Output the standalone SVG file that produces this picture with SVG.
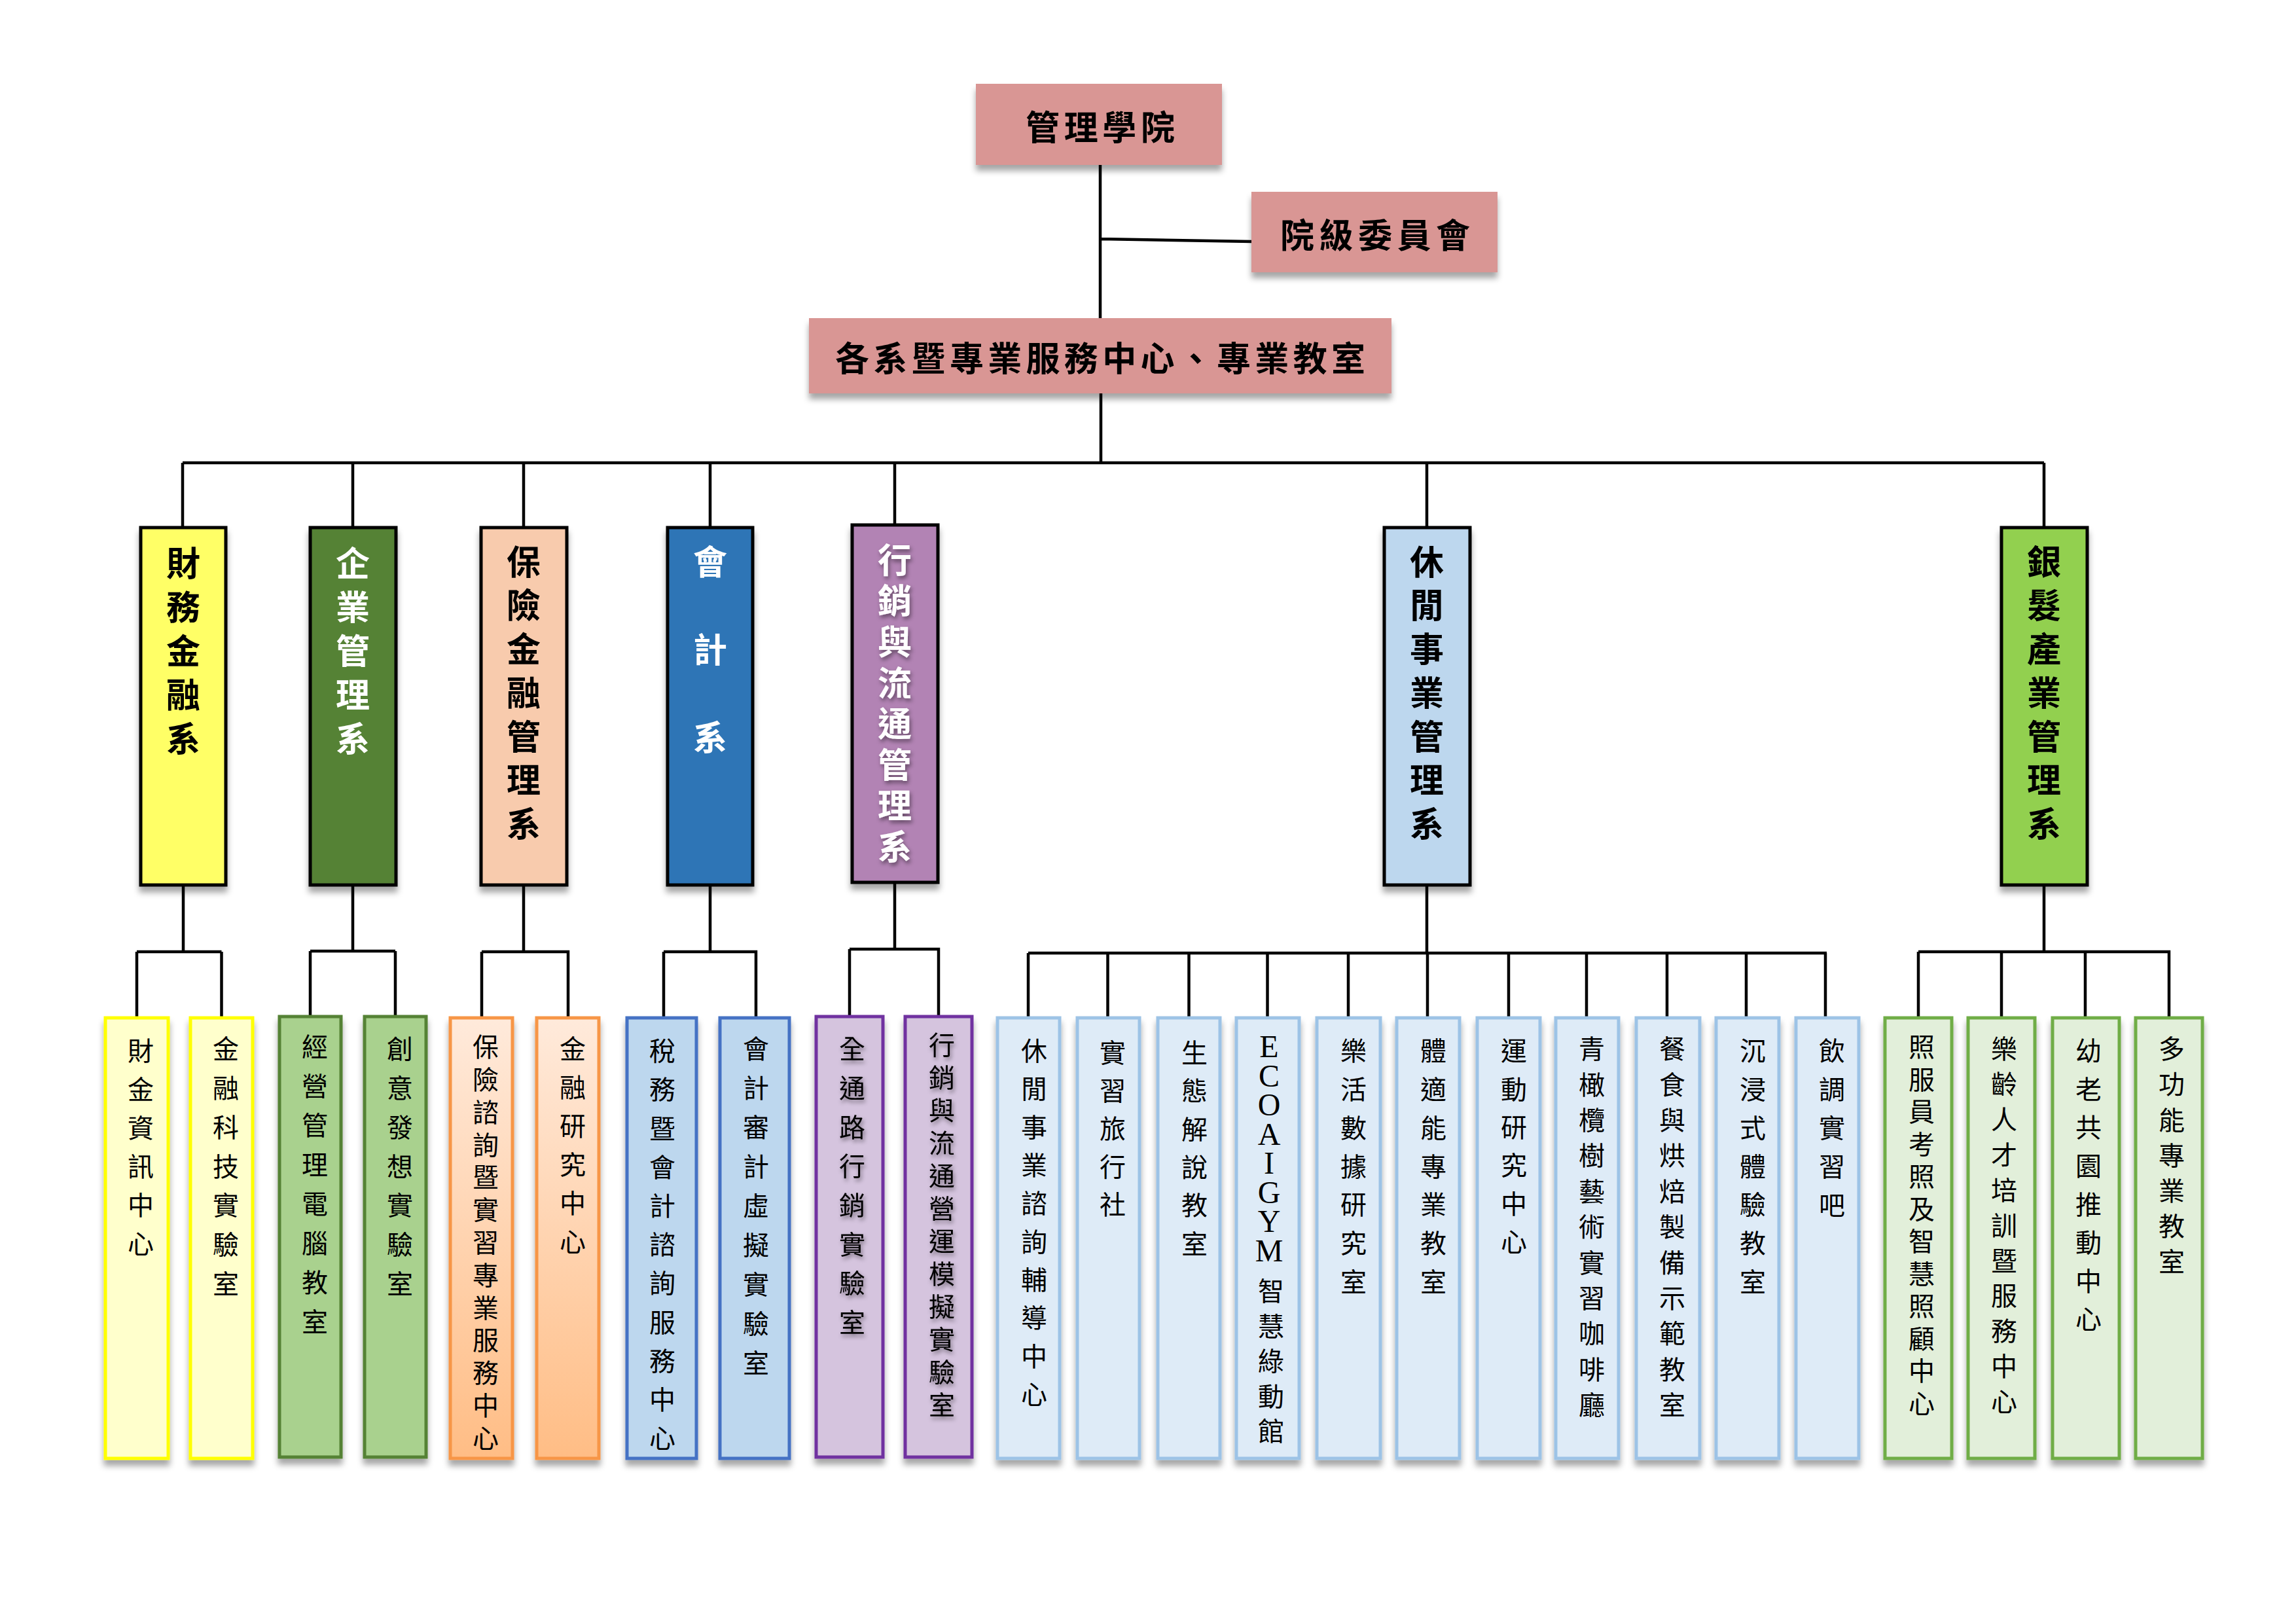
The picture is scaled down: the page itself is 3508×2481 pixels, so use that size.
<svg xmlns="http://www.w3.org/2000/svg" width="3508" height="2481" viewBox="0 0 3508 2481">
<defs>
<filter id="sh" x="-20%" y="-10%" width="140%" height="130%"><feDropShadow dx="0" dy="9" stdDeviation="5" flood-color="#000" flood-opacity="0.35"/></filter>
<filter id="tsh" x="-30%" y="-10%" width="160%" height="120%"><feDropShadow dx="2" dy="4" stdDeviation="3" flood-color="#000" flood-opacity="0.45"/></filter>
<linearGradient id="og" x1="0" y1="0" x2="0" y2="1"><stop offset="0" stop-color="#FFEADB"/><stop offset="1" stop-color="#FFBD85"/></linearGradient>
</defs>
<style>
.ln{stroke:#000;stroke-width:4.5;fill:none}
.top{fill:#D99694}
.dept{stroke:#000;stroke-width:5}
.tt{font-family:"Noto Sans CJK TC","Noto Sans CJK SC",sans-serif;font-weight:700;font-size:52px;text-anchor:middle;dominant-baseline:central;fill:#000}
.dt{font-family:"Noto Sans CJK TC","Noto Sans CJK SC",sans-serif;font-weight:700;font-size:52px;writing-mode:vertical-rl;text-anchor:start}
.st{font-family:"Noto Sans CJK TC","Noto Sans CJK SC",sans-serif;font-size:40px;writing-mode:vertical-rl;text-anchor:start;fill:#000}
.lat{font-family:"Liberation Serif",serif;font-size:48px;writing-mode:vertical-rl;text-orientation:upright;text-anchor:start;fill:#000}
.sb{stroke-width:5}
.y{fill:#FFFFCC;stroke:#FFFF00}
.g{fill:#A9D18E;stroke:#548235}
.o{fill:url(#og);stroke:#F79646}
.b{fill:#BDD7EE;stroke:#4472C4}
.p{fill:#D5C4DE;stroke:#7030A0}
.lb{fill:#DEEBF7;stroke:#9DC3E6}
.lg{fill:#E2EFDA;stroke:#70AD47}
</style>
<rect width="3508" height="2481" fill="#fff"/>

<g id="connectors">
<path class="ln" d="M1681,252 V486 M1681,365 L1912,369 M1682,601 V707 M279,707 H3123 M279,707 V806 M539,707 V806 M800,707 V806 M1085,707 V806 M1367,707 V802 M2180,707 V806 M3123,707 V806"/>
<path class="ln" d="M280,1352 V1454 M209,1454 H338.5 M209,1454 V1555 M338.5,1454 V1555 M539,1352 V1453 M474,1453 H604 M474,1453 V1553 M604,1453 V1553 M800,1352 V1454 M736,1454 H868 V1555 M736,1454 V1555 M1085,1352 V1454 M1014,1454 H1155 V1555 M1014,1454 V1555 M1367,1348 V1450 M1298,1450 H1434 V1553 M1298,1450 V1553 M2180,1352 V1456 M1571,1456 H2791 M1571,1456 V1555 M1692.5,1456 V1555 M1816.5,1456 V1555 M1936.5,1456 V1555 M2060,1456 V1555 M2181,1456 V1555 M2305,1456 V1555 M2424,1456 V1555 M2547,1456 V1555 M2668,1456 V1555 M2789,1456 V1555 M3123,1352 V1454 M2931,1454 H3314 V1555 M2931,1454 V1555 M3058,1454 V1555 M3186,1454 V1555"/>
</g>

<g id="n-college"><rect class="top" x="1491" y="128" width="376" height="124" filter="url(#sh)"/><text class="tt" x="1681" y="191" textLength="228" lengthAdjust="spacing">管理學院</text></g>
<g id="n-committee"><rect class="top" x="1912" y="293" width="376" height="123" filter="url(#sh)"/><text class="tt" x="2101" y="356" textLength="290" lengthAdjust="spacing">院級委員會</text></g>
<g id="n-centers"><rect class="top" x="1236" y="486" width="890" height="115" filter="url(#sh)"/><text class="tt" x="1681" y="544" textLength="810" lengthAdjust="spacing">各系暨專業服務中心、專業教室</text></g>

<g id="d-finance"><rect class="dept" x="215" y="806" width="130" height="546" fill="#FFFF66" filter="url(#sh)"/><text class="dt" fill="#000" x="280" y="834" letter-spacing="15">財務金融系</text></g>
<g id="d-business"><rect class="dept" x="474" y="806" width="131" height="546" fill="#548235" filter="url(#sh)"/><text class="dt" fill="#fff" x="539" y="834" letter-spacing="15">企業管理系</text></g>
<g id="d-insurance"><rect class="dept" x="735" y="806" width="131" height="546" fill="#F8CBAD" filter="url(#sh)"/><text class="dt" fill="#000" x="800" y="832" letter-spacing="14.7">保險金融管理系</text></g>
<g id="d-accounting"><rect class="dept" x="1020" y="806" width="130" height="546" fill="#2E75B6" filter="url(#sh)"/><text class="dt" fill="#fff" x="1085" y="832" letter-spacing="82">會計系</text></g>
<g id="d-marketing"><rect class="dept" x="1302" y="802" width="131" height="546" fill="#B283B4" filter="url(#sh)"/><text class="dt" fill="#fff" filter="url(#tsh)" x="1367" y="829" letter-spacing="10.6">行銷與流通管理系</text></g>
<g id="d-leisure"><rect class="dept" x="2115" y="806" width="131" height="546" fill="#BDD7EE" filter="url(#sh)"/><text class="dt" fill="#000" x="2180" y="832" letter-spacing="14.7">休閒事業管理系</text></g>
<g id="d-silver"><rect class="dept" x="3058" y="806" width="131" height="546" fill="#92D050" filter="url(#sh)"/><text class="dt" fill="#000" x="3123" y="832" letter-spacing="14.7">銀髮產業管理系</text></g>

<g id="s1"><rect class="sb y" x="161" y="1555" width="96" height="673" filter="url(#sh)"/><text class="st" x="215" y="1585" letter-spacing="19">財金資訊中心</text></g>
<g id="s2"><rect class="sb y" x="291" y="1555" width="95" height="673" filter="url(#sh)"/><text class="st" x="345" y="1582" letter-spacing="19.8">金融科技實驗室</text></g>
<g id="s3"><rect class="sb g" x="427" y="1553" width="94" height="673" filter="url(#sh)"/><text class="st" x="481" y="1579" letter-spacing="20">經營管理電腦教室</text></g>
<g id="s4"><rect class="sb g" x="557" y="1553" width="94" height="673" filter="url(#sh)"/><text class="st" x="611" y="1582" letter-spacing="19.8">創意發想實驗室</text></g>
<g id="s5"><rect class="sb o" x="688" y="1555" width="95" height="673" filter="url(#sh)"/><text class="st" x="742" y="1579" letter-spacing="9.8">保險諮詢暨實習專業服務中心</text></g>
<g id="s6"><rect class="sb o" x="820" y="1555" width="95" height="673" filter="url(#sh)"/><text class="st" x="875" y="1582" letter-spacing="19">金融研究中心</text></g>
<g id="s7"><rect class="sb b" x="958" y="1555" width="106" height="673" filter="url(#sh)"/><text class="st" x="1012" y="1585" letter-spacing="19.2">稅務暨會計諮詢服務中心</text></g>
<g id="s8"><rect class="sb b" x="1100" y="1555" width="106" height="673" filter="url(#sh)"/><text class="st" x="1155" y="1582" letter-spacing="20">會計審計虛擬實驗室</text></g>
<g id="s9"><rect class="sb p" x="1247" y="1553" width="102" height="673" filter="url(#sh)"/><text class="st" filter="url(#tsh)" x="1302" y="1582" letter-spacing="19.7">全通路行銷實驗室</text></g>
<g id="s10"><rect class="sb p" x="1383" y="1553" width="102" height="673" filter="url(#sh)"/><text class="st" filter="url(#tsh)" x="1439" y="1576" letter-spacing="10">行銷與流通營運模擬實驗室</text></g>
<g id="s11"><rect class="sb lb" x="1524" y="1555" width="95" height="673" filter="url(#sh)"/><text class="st" x="1580" y="1585" letter-spacing="18.3">休閒事業諮詢輔導中心</text></g>
<g id="s12"><rect class="sb lb" x="1646" y="1555" width="95" height="673" filter="url(#sh)"/><text class="st" x="1700" y="1588" letter-spacing="18">實習旅行社</text></g>
<g id="s13"><rect class="sb lb" x="1769" y="1555" width="95" height="673" filter="url(#sh)"/><text class="st" x="1825" y="1588" letter-spacing="18.3">生態解說教室</text></g>
<g id="s14"><rect class="sb lb" x="1889" y="1555" width="96" height="673" filter="url(#sh)"/><text class="lat" x="1939" y="1572" textLength="365" lengthAdjust="spacing">ECOAIGYM</text><text class="st" x="1942" y="1952" letter-spacing="13.5">智慧綠動館</text></g>
<g id="s15"><rect class="sb lb" x="2012" y="1555" width="97" height="673" filter="url(#sh)"/><text class="st" x="2068" y="1585" letter-spacing="18.8">樂活數據研究室</text></g>
<g id="s16"><rect class="sb lb" x="2134" y="1555" width="96" height="673" filter="url(#sh)"/><text class="st" x="2190" y="1585" letter-spacing="18.8">體適能專業教室</text></g>
<g id="s17"><rect class="sb lb" x="2257" y="1555" width="96" height="673" filter="url(#sh)"/><text class="st" x="2313" y="1585" letter-spacing="18.4">運動研究中心</text></g>
<g id="s18"><rect class="sb lb" x="2377" y="1555" width="96" height="673" filter="url(#sh)"/><text class="st" x="2432" y="1582" letter-spacing="14.4">青橄欖樹藝術實習咖啡廳</text></g>
<g id="s19"><rect class="sb lb" x="2500" y="1555" width="97" height="673" filter="url(#sh)"/><text class="st" x="2555" y="1582" letter-spacing="14.4">餐食與烘焙製備示範教室</text></g>
<g id="s20"><rect class="sb lb" x="2622" y="1555" width="96" height="673" filter="url(#sh)"/><text class="st" x="2678" y="1585" letter-spacing="18.8">沉浸式體驗教室</text></g>
<g id="s21"><rect class="sb lb" x="2744" y="1555" width="96" height="673" filter="url(#sh)"/><text class="st" x="2799" y="1585" letter-spacing="18.9">飲調實習吧</text></g>
<g id="s22"><rect class="sb lg" x="2880" y="1555" width="102" height="673" filter="url(#sh)"/><text class="st" x="2936" y="1579" letter-spacing="9.5">照服員考照及智慧照顧中心</text></g>
<g id="s23"><rect class="sb lg" x="3007" y="1555" width="102" height="673" filter="url(#sh)"/><text class="st" x="3062" y="1582" letter-spacing="13.9">樂齡人才培訓暨服務中心</text></g>
<g id="s24"><rect class="sb lg" x="3136" y="1555" width="102" height="673" filter="url(#sh)"/><text class="st" x="3191" y="1585" letter-spacing="18.6">幼老共園推動中心</text></g>
<g id="s25"><rect class="sb lg" x="3263" y="1555" width="102" height="673" filter="url(#sh)"/><text class="st" x="3318" y="1582" letter-spacing="14.2">多功能專業教室</text></g>
</svg>
